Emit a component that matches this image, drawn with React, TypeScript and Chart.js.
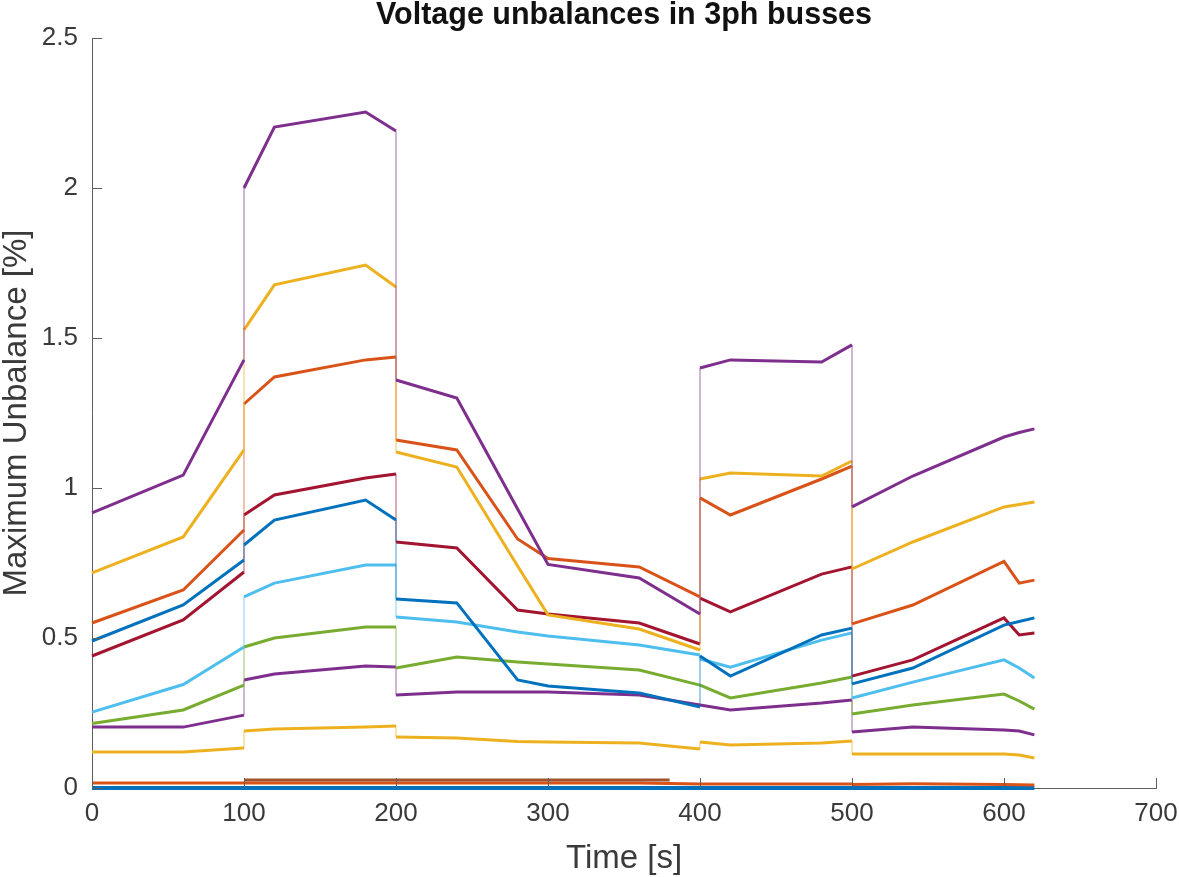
import React, { useEffect, useRef } from "react";
import { Chart, registerables } from "chart.js";

Chart.register(...registerables);

// Shared time base (duplicated times are the step jumps)
const times = [0, 60, 100, 100, 120, 180, 200, 200, 240, 280, 300, 360, 400, 400, 420, 480, 500, 500, 540, 600, 610, 620];

const bus1 = [0, 0, 0, 0, 0, 0, 0, 0, 0, 0, 0, 0, 0, 0, 0, 0, 0, 0, 0, 0, 0, 0];
const bus2 = [0.017, 0.017, 0.017, 0.017, 0.017, 0.017, 0.017, 0.017, 0.017, 0.017, 0.017, 0.017, 0.013, 0.013, 0.013, 0.013, 0.013, 0.012, 0.014, 0.012, 0.011, 0.01];
const bus3 = [0.12, 0.12, 0.133, 0.19, 0.197, 0.203, 0.207, 0.17, 0.167, 0.155, 0.153, 0.15, 0.13, 0.153, 0.143, 0.15, 0.157, 0.113, 0.113, 0.113, 0.11, 0.1];
const bus4 = [0.203, 0.203, 0.243, 0.36, 0.38, 0.407, 0.403, 0.31, 0.32, 0.32, 0.32, 0.31, 0.277, 0.277, 0.26, 0.283, 0.293, 0.187, 0.203, 0.193, 0.19, 0.177];
const bus5 = [0.215, 0.26, 0.343, 0.47, 0.5, 0.537, 0.537, 0.4, 0.437, 0.42, 0.413, 0.393, 0.343, 0.343, 0.3, 0.35, 0.37, 0.247, 0.277, 0.313, 0.29, 0.263];
const bus6 = [0.253, 0.345, 0.47, 0.637, 0.683, 0.743, 0.743, 0.57, 0.553, 0.52, 0.507, 0.477, 0.443, 0.43, 0.403, 0.493, 0.517, 0.3, 0.353, 0.427, 0.4, 0.367];
const bus7 = [0.44, 0.56, 0.72, 0.91, 0.977, 1.033, 1.047, 0.82, 0.8, 0.593, 0.58, 0.55, 0.48, 0.633, 0.587, 0.713, 0.737, 0.373, 0.427, 0.567, 0.51, 0.517];
const bus8 = [0.49, 0.61, 0.76, 0.81, 0.893, 0.96, 0.893, 0.63, 0.617, 0.36, 0.34, 0.317, 0.27, 0.44, 0.373, 0.51, 0.533, 0.347, 0.4, 0.543, 0.555, 0.567];
const bus9 = [0.55, 0.66, 0.86, 1.28, 1.37, 1.427, 1.437, 1.16, 1.127, 0.83, 0.765, 0.737, 0.637, 0.967, 0.91, 1.03, 1.073, 0.547, 0.61, 0.755, 0.683, 0.693];
const bus10 = [0.717, 0.837, 1.127, 1.527, 1.677, 1.743, 1.67, 1.12, 1.07, 0.74, 0.577, 0.53, 0.46, 1.03, 1.05, 1.04, 1.09, 0.73, 0.82, 0.937, 0.945, 0.953];
const bus11 = [0.917, 1.043, 1.427, 2.0, 2.203, 2.253, 2.19, 1.36, 1.3, 0.93, 0.745, 0.7, 0.58, 1.4, 1.427, 1.42, 1.477, 0.937, 1.04, 1.17, 1.185, 1.197];

const extraTimes = [100, 380];
const extraBus = [0.027, 0.027];

const xTicks = [0, 100, 200, 300, 400, 500, 600, 700];
const yTicks = [0, 0.5, 1, 1.5, 2, 2.5];

const seriesList = [bus1, bus2, bus3, bus4, bus5, bus6, bus7, bus8, bus9, bus10, bus11];
const colors = ["#0072BD", "#D95319", "#EDB120", "#7E2F8E", "#77AC30", "#4DBEEE", "#A2142F", "#0072BD", "#D95319", "#EDB120", "#7E2F8E"];

const AXIS_COLOR = "#5e5e5e";
const TEXT_COLOR = "#3a3a3a";
const FONT = "'Liberation Sans', Arial, Helvetica, sans-serif";

function hexA(hex: string, a: number) {
  const r = parseInt(hex.slice(1, 3), 16);
  const g = parseInt(hex.slice(3, 5), 16);
  const b = parseInt(hex.slice(5, 7), 16);
  return `rgba(${r},${g},${b},${a})`;
}

const overlayPlugin = {
  id: "matlabOverlay",
  afterDraw(chart: any) {
    const { ctx, chartArea, scales } = chart;
    const xs = scales.x;
    const ys = scales.y;
    ctx.save();
    ctx.strokeStyle = AXIS_COLOR;
    ctx.lineWidth = 1;
    ctx.beginPath();
    xTicks.forEach((t) => {
      const px = Math.round(xs.getPixelForValue(t)) + 0.5;
      ctx.moveTo(px, chartArea.bottom);
      ctx.lineTo(px, chartArea.bottom - 10);
    });
    yTicks.forEach((v) => {
      const py = Math.round(ys.getPixelForValue(v)) + 0.5;
      ctx.moveTo(chartArea.left, py);
      ctx.lineTo(chartArea.left + 10, py);
    });
    ctx.stroke();
    ctx.fillStyle = "#111";
    ctx.font = `bold 30.5px ${FONT}`;
    ctx.textAlign = "center";
    ctx.textBaseline = "middle";
    ctx.fillText("Voltage unbalances in 3ph busses", (chartArea.left + chartArea.right) / 2, 16);
    ctx.restore();
  },
};

export default function App() {
  const ref = useRef<HTMLCanvasElement | null>(null);
  useEffect(() => {
    if (!ref.current) return;
    const n = seriesList.length;
    const datasets: any[] = seriesList.map((vals, i) => ({
      label: `Bus ${i + 1}`,
      data: vals.map((v, k) => ({ x: times[k], y: v })),
      borderColor: colors[i],
      borderWidth: i === 0 ? 4 : 3,
      pointRadius: 0,
      tension: 0,
      fill: false,
      clip: 6,
      order: n + 2 - i,
      segment: {
        borderWidth: (c: any) => (c.p0.parsed.x === c.p1.parsed.x ? 1.3 : undefined),
        borderColor: (c: any) => (c.p0.parsed.x === c.p1.parsed.x ? hexA(colors[i], 0.55) : undefined),
      },
    }));
    datasets.push({
      label: "Bus extra",
      data: extraBus.map((v, k) => ({ x: extraTimes[k], y: v })),
      borderColor: "#A0522D",
      borderWidth: 3,
      pointRadius: 0,
      fill: false,
      clip: 6,
      order: n - 1,
    });
    const chart = new Chart(ref.current, {
      type: "line",
      data: { datasets },
      plugins: [overlayPlugin],
      options: {
        animation: false,
        responsive: false,
        maintainAspectRatio: false,
        layout: { padding: { top: 38, right: 23, left: 0, bottom: 0 } },
        plugins: { legend: { display: false }, tooltip: { enabled: false }, title: { display: false } },
        scales: {
          x: {
            type: "linear",
            min: 0,
            max: 700,
            afterFit: (s: any) => { s.height = 89; s.paddingLeft = 0; s.paddingRight = 0; },
            afterBuildTicks: (s: any) => { s.ticks = xTicks.map((v) => ({ value: v })); },
            grid: { display: false, drawTicks: false },
            border: { display: true, color: AXIS_COLOR, width: 1 },
            ticks: { color: TEXT_COLOR, font: { family: FONT, size: 26 }, padding: 10, maxRotation: 0, autoSkip: false },
            title: { display: true, text: "Time [s]", color: TEXT_COLOR, font: { family: FONT, size: 33, lineHeight: 1 }, padding: { top: 0, bottom: 2 } },
          },
          y: {
            type: "linear",
            min: 0,
            max: 2.5,
            afterFit: (s: any) => { s.width = 92; s.paddingTop = 0; s.paddingBottom = 0; },
            afterBuildTicks: (s: any) => { s.ticks = yTicks.map((v) => ({ value: v })); },
            grid: { display: false, drawTicks: false },
            border: { display: true, color: AXIS_COLOR, width: 1 },
            ticks: { color: TEXT_COLOR, font: { family: FONT, size: 26 }, padding: 14, autoSkip: false, callback: (v: any) => String(v) },
            title: { display: true, text: "Maximum Unbalance [%]", color: TEXT_COLOR, font: { family: FONT, size: 33, lineHeight: 1 }, padding: { top: 0, bottom: 0 } },
          },
        },
      },
    });
    return () => chart.destroy();
  }, []);
  return (
    <div style={{ position: "absolute", left: 0, top: 0, width: 1179, height: 877, background: "#fff" }}>
      <canvas ref={ref} width={1179} height={877} style={{ display: "block" }} />
    </div>
  );
}
